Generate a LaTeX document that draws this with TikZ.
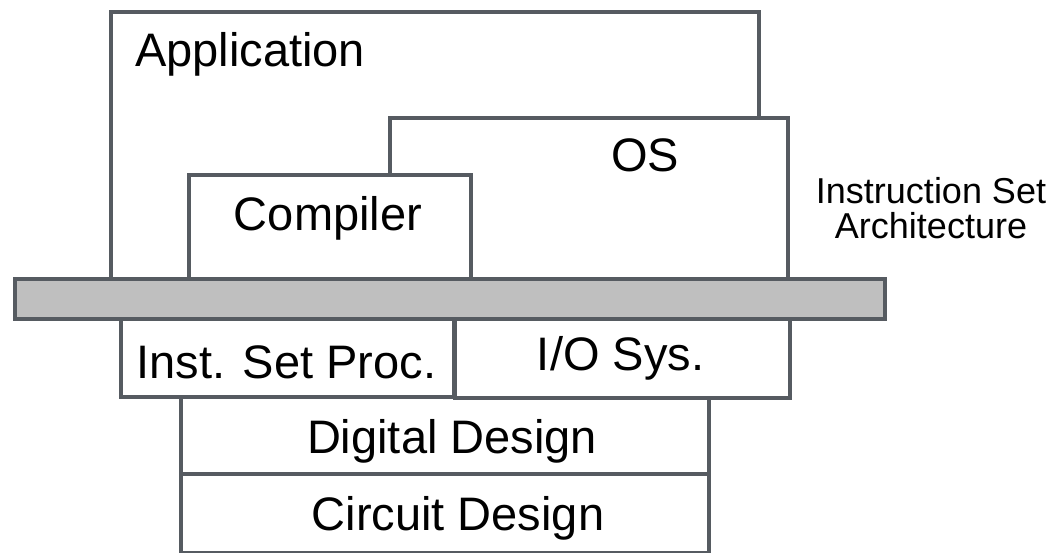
\documentclass[tikz,border=0pt]{standalone}
\usepackage{fontspec}
\setmainfont{Liberation Sans}
\definecolor{edge}{HTML}{565B61}
\definecolor{barfill}{HTML}{BFBFBF}
\begin{document}
\begin{tikzpicture}[x=1pt,y=-1pt,
  box/.style={draw=edge, line width=4pt, fill=white, inner sep=0pt, anchor=north west},
  big/.style={font=\fontsize{47}{56}\selectfont, anchor=base, inner sep=0pt},
  small/.style={font=\fontsize{36}{35}\selectfont, align=center, anchor=base, inner sep=0pt}]
\useasboundingbox (0,0) rectangle (1056,553);
% upper layers
\node[box, minimum width=648pt, minimum height=267pt] (app) at (109,10) {};
\node[box, minimum width=398pt, minimum height=161pt] (os) at (388,116) {};
\node[box, minimum width=282pt, minimum height=104pt] (comp) at (187,173) {};
% ISA bar
\node[box, fill=barfill, minimum width=870pt, minimum height=40pt] (isa) at (13,277) {};
% lower layers
\node[box, minimum width=528pt, minimum height=79pt] (cd) at (179,472) {};
\node[box, minimum width=528pt, minimum height=77pt] (dd) at (179,395) {};
\node[box, minimum width=333pt, minimum height=78pt] (isp) at (119,317) {};
\node[box, minimum width=335pt, minimum height=79pt] (io) at (453,317) {};
% labels
\node[big] (tapp) at (250,67) {Application};
\node[big] (tos) at (645,172) {OS};
\node[big] (tcomp) at (328,230) {Compiler};
\node[big] (tisp) at (286.5,378) {Inst. Set Proc.};
\node[big] (tio) at (620.5,370) {I/O Sys.};
\node[big] (tdd) at (452,453) {Digital Design};
\node[big] (tcd) at (458,530) {Circuit Design};
\node[small] (tisa) at (931,238) {Instruction Set\\Architecture};
\end{tikzpicture}
\end{document}
